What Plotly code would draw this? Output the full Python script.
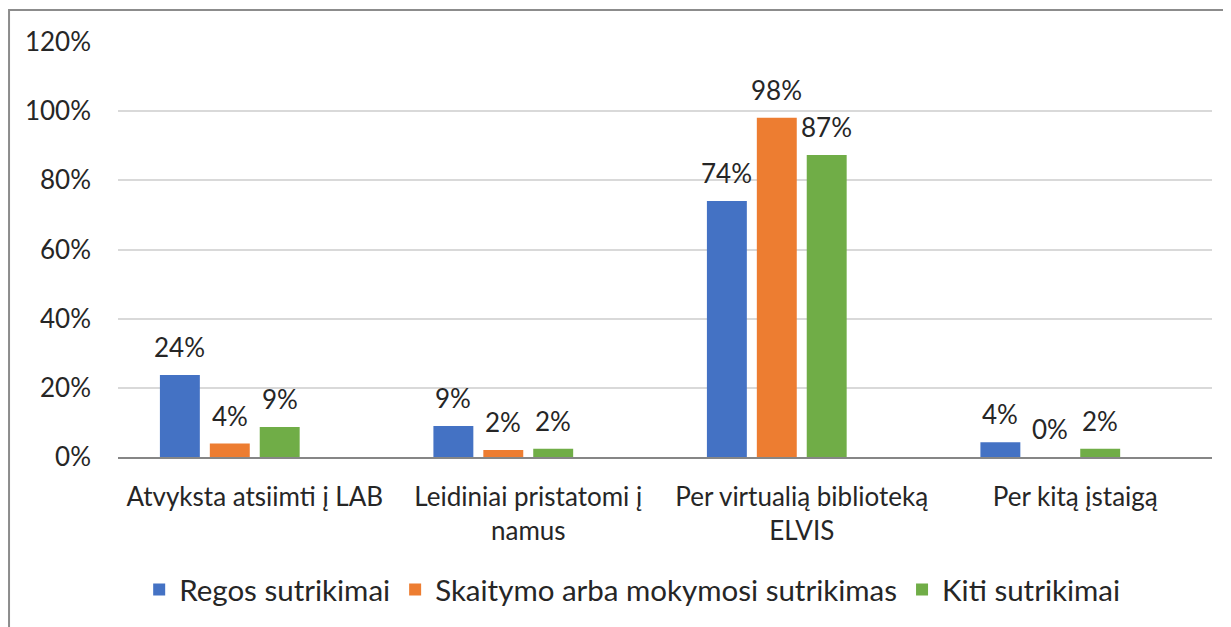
import plotly.graph_objects as go

# ---------------------------------------------------------------------------
# Dati
# ---------------------------------------------------------------------------

categorie = [
    "Atvyksta atsiimti į LAB",
    "Leidiniai pristatomi į<br>namus",
    "Per virtualią biblioteką<br>ELVIS",
    "Per kitą įstaigą",
]
serie_nomi = ["Regos sutrikimai", "Skaitymo arba mokymosi sutrikimas", "Kiti sutrikimai"]
regos = [0.237, 0.09, 0.74, 0.043]
skaitymo = [0.039, 0.02, 0.981, 0.0]
kiti = [0.087, 0.024, 0.873, 0.024]
y_ticks = [0, 0.2, 0.4, 0.6, 0.8, 1.0, 1.2]

colori = ["#4472C4", "#ED7D31", "#70AD47"]
FONT = "Lato"
FS = 26
TXT = "#262626"

fig = go.Figure()
for nome, valori, colore in zip(serie_nomi, [regos, skaitymo, kiti], colori):
    fig.add_trace(go.Bar(x=categorie, y=valori, name=nome, marker_color=colore,
                         marker_line_width=0))
# serie vuota (come in Excel: quarto slot senza dati)
fig.add_trace(go.Bar(x=categorie, y=[None] * len(categorie), showlegend=False,
                     hoverinfo="skip"))

# etichette dati sopra le barre
slot_px = 50
for i, valori in enumerate([regos, skaitymo, kiti]):
    for cat, v in zip(categorie, valori):
        fig.add_annotation(x=cat, y=v, text=f"{v:.0%}", showarrow=False,
                           xshift=(i - 1.5) * slot_px, yshift=28,
                           yanchor="middle", font=dict(size=FS, color=TXT, family=FONT))

# bordo del grafico
fig.add_shape(type="rect", xref="paper", yref="paper",
              x0=-0.0996, x1=1.2, y0=-0.6, y1=1.077,
              line=dict(color="#8C8C8C", width=2), fillcolor="rgba(0,0,0,0)")

fig.update_layout(
    width=1231, height=627,
    margin=dict(l=110, r=27, t=34, b=178),
    paper_bgcolor="white", plot_bgcolor="white",
    barmode="group", bargap=0.27, bargroupgap=0.2,
    font=dict(family=FONT, size=FS, color=TXT),
    legend=dict(orientation="h", x=0.47, xanchor="center", y=-0.32, yanchor="middle",
                font=dict(size=29.5), itemwidth=30, traceorder="normal"),
    showlegend=True,
)
fig.update_yaxes(range=[0, 1.2], tickvals=y_ticks, tickformat=".0%",
                 showgrid=True, gridcolor="#D9D9D9", gridwidth=1.5,
                 zeroline=False, showline=False, ticks="", ticklabelstandoff=26)
fig.update_xaxes(showline=True, linecolor="#868686", linewidth=1.5, ticks="",
                 ticklabelstandoff=16)

fig.write_html("out.html")
